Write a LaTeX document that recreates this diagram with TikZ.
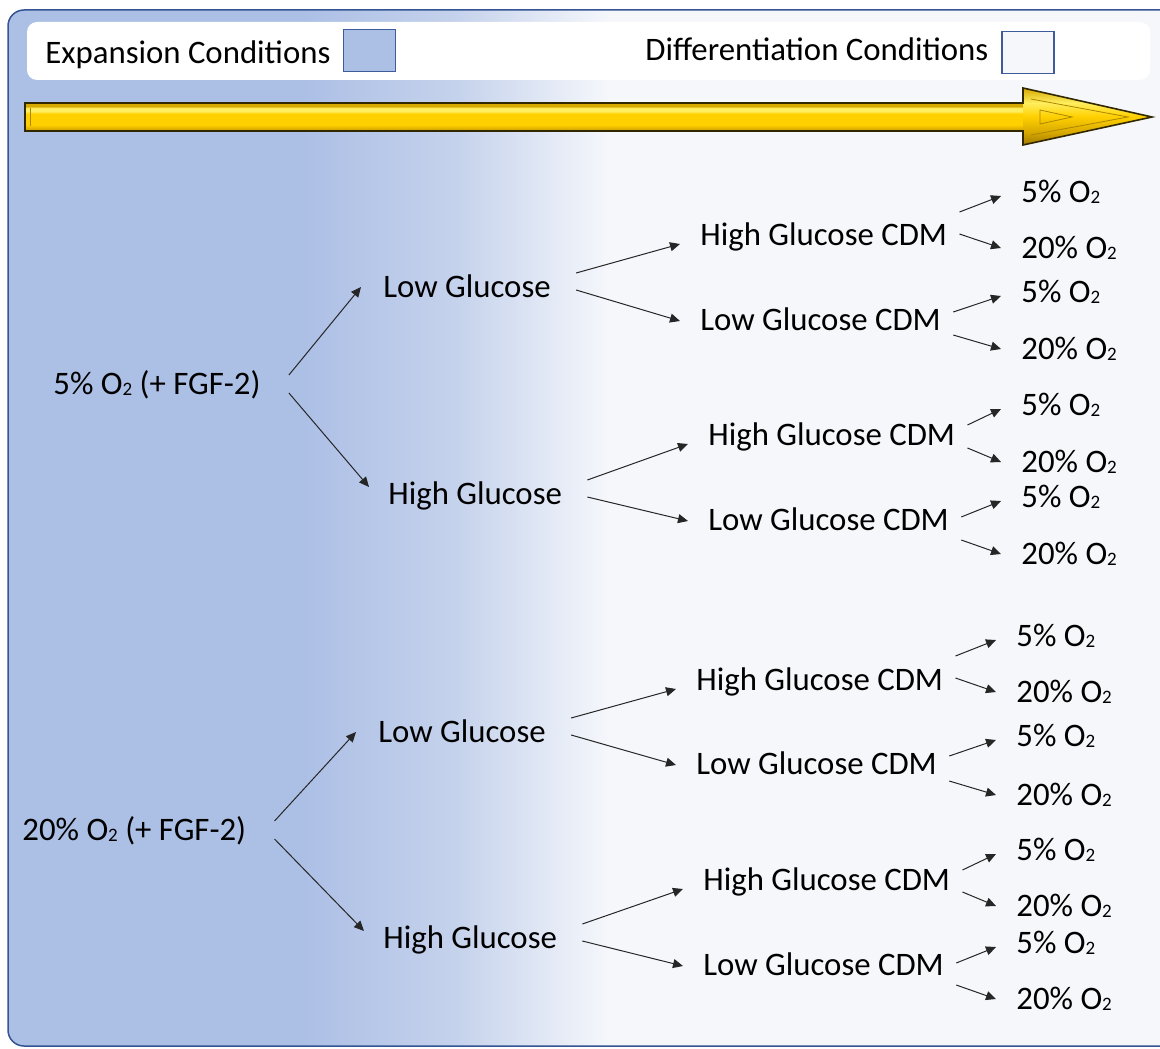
\documentclass[tikz,border=0pt]{standalone}
\usepackage{fontspec}
\setmainfont{Carlito}
\usetikzlibrary{arrows.meta,calc}

\definecolor{bgblue}{RGB}{172,191,229}
\definecolor{bgmid}{RGB}{197,210,236}
\definecolor{bglight}{RGB}{245,247,251}
\definecolor{frameblue}{RGB}{52,84,148}
\definecolor{swatchline}{RGB}{62,92,156}
\definecolor{golddark}{RGB}{160,120,0}
\definecolor{goldbev}{RGB}{215,168,0}
\definecolor{goldmain}{RGB}{255,208,0}
\definecolor{goldhi}{RGB}{255,238,95}
\definecolor{goldline}{RGB}{50,40,0}

\pgfdeclarehorizontalshading{bgshade}{100bp}{color(0bp)=(bgblue); color(37.5bp)=(bgblue);
  color(44bp)=(bgmid); color(50.5bp)=(bglight); color(100bp)=(bglight)}
\pgfdeclareverticalshading{shaftshade}{100bp}{color(0bp)=(golddark); color(25bp)=(golddark);
  color(28bp)=(goldbev); color(36bp)=(goldmain); color(56bp)=(goldmain); color(60bp)=(goldhi);
  color(66bp)=(goldhi); color(69bp)=(goldbev); color(75bp)=(goldbev); color(100bp)=(goldbev)}
\pgfdeclareverticalshading{headshade}{100bp}{color(0bp)=(golddark); color(25bp)=(golddark);
  color(36bp)=(goldbev); color(50bp)=(goldmain); color(62bp)=(goldhi); color(75bp)=(goldbev);
  color(100bp)=(goldbev)}

% O with a small 2
\newcommand{\osub}{O\raisebox{-0.6pt}{\fontsize{9.5}{10}\selectfont 2}}

\tikzset{
  lbl/.style={anchor=west, inner sep=0pt, text height=10.5pt, text depth=0pt,
    font=\fontsize{16.4}{20}\selectfont},
  arr/.style={-{Triangle[length=5pt,width=4.5pt]}, line width=0.5pt, draw=black!85},
  swatch/.style={draw=swatchline, line width=0.8pt, minimum width=26pt,
    minimum height=21pt, inner sep=0pt}
}

\begin{document}
\begin{tikzpicture}[x=0.5pt, y=-0.5pt]
  \useasboundingbox (0,0) rectangle (1160,1048);

  % background panel and legend
  \draw[frameblue, line width=0.75pt, rounded corners=8pt, shading=bgshade]
    (8,10) rectangle (1185,1046);
  \fill[white, rounded corners=5pt] (27,22) rectangle (1150,80);
  \node[lbl] (exptxt) at (45,53) {Expansion Conditions};
  \node[swatch, fill=bgblue] (expbox) at (369.5,50.5) {};
  \node[lbl] (diftxt) at (645,50) {Differentiation Conditions};
  \node[swatch, fill=bglight] (difbox) at (1028,52.5) {};

  % timeline arrow
  \fill[shading=shaftshade] (25,103) rectangle (1024,131);
  \fill[shading=headshade] (1023,88) -- (1152,117) -- (1023,145) -- cycle;
  \draw[goldbev!80!black, line width=0.4pt] (1031,99) -- (1128,117) -- (1031,135);
  \draw[goldbev!80!black, line width=0.4pt] (1040,110) -- (1072,117) -- (1040,124) -- cycle;
  \draw[goldbev!80!black, line width=0.4pt] (30,108) -- (30,126);
  \draw[goldline, line width=0.8pt, line join=miter]
    (25,103) -- (1023,103) -- (1023,88) -- (1152,117) -- (1023,145) -- (1023,131)
    -- (25,131) -- cycle;

  % 5% O2 branch
  \node[lbl] (o5)   at (53,384)  {5\% \osub{} (+ FGF-2)};
  \node[lbl] (lgA)  at (383,287) {Low Glucose};
  \node[lbl] (hgA)  at (388,494) {High Glucose};
  \node[lbl] (hcA1) at (700,235) {High Glucose CDM};
  \node[lbl] (lcA1) at (700,320) {Low Glucose CDM};
  \node[lbl] (hcA2) at (708,435) {High Glucose CDM};
  \node[lbl] (lcA2) at (708,520) {Low Glucose CDM};
  \node[lbl] (a1) at (1021,192) {5\% \osub};
  \node[lbl] (a2) at (1021,248) {20\% \osub};
  \node[lbl] (a3) at (1021,292) {5\% \osub};
  \node[lbl] (a4) at (1021,349) {20\% \osub};
  \node[lbl] (a5) at (1021,405) {5\% \osub};
  \node[lbl] (a6) at (1021,462) {20\% \osub};
  \node[lbl] (a7) at (1021,497) {5\% \osub};
  \node[lbl] (a8) at (1021,554) {20\% \osub};

  % 20% O2 branch
  \node[lbl] (o20)  at (22,830)  {20\% \osub{} (+ FGF-2)};
  \node[lbl] (lgB)  at (378,732) {Low Glucose};
  \node[lbl] (hgB)  at (383,938) {High Glucose};
  \node[lbl] (hcB1) at (696,680) {High Glucose CDM};
  \node[lbl] (lcB1) at (696,764) {Low Glucose CDM};
  \node[lbl] (hcB2) at (703,880) {High Glucose CDM};
  \node[lbl] (lcB2) at (703,965) {Low Glucose CDM};
  \node[lbl] (b1) at (1016,636) {5\% \osub};
  \node[lbl] (b2) at (1016,692) {20\% \osub};
  \node[lbl] (b3) at (1016,736) {5\% \osub};
  \node[lbl] (b4) at (1016,795) {20\% \osub};
  \node[lbl] (b5) at (1016,850) {5\% \osub};
  \node[lbl] (b6) at (1016,906) {20\% \osub};
  \node[lbl] (b7) at (1016,943) {5\% \osub};
  \node[lbl] (b8) at (1016,999) {20\% \osub};

  % forks
  \foreach \s/\u/\d in {o5/lgA/hgA, o20/lgB/hgB} {
    \draw[arr] ([shift={(28,-9)}]\s.east) -- ([shift={(-22,0)}]\u.west);
    \draw[arr] ([shift={(28,9)}]\s.east) -- ([shift={(-19,-7)}]\d.west);
  }
  \foreach \s/\u/\d in {lgA/hcA1/lcA1, hgA/hcA2/lcA2, lgB/hcB1/lcB1, hgB/hcB2/lcB2} {
    \draw[arr] ([shift={(25,-14)}]\s.east) -- ([shift={(-20,9)}]\u.west);
    \draw[arr] ([shift={(25,3)}]\s.east) -- ([shift={(-20,1)}]\d.west);
  }
  \foreach \s/\u/\d in {hcA1/a1/a2, lcA1/a3/a4, hcA2/a5/a6, lcA2/a7/a8,
                        hcB1/b1/b2, lcB1/b3/b4, hcB2/b5/b6, lcB2/b7/b8} {
    \draw[arr] ($(\s.east |- \u.west)+(12,20)$) -- ([shift={(-20,4)}]\u.west);
    \draw[arr] ($(\s.east |- \d.west)+(12,-14)$) -- ([shift={(-20,0)}]\d.west);
  }
\end{tikzpicture}
\end{document}
